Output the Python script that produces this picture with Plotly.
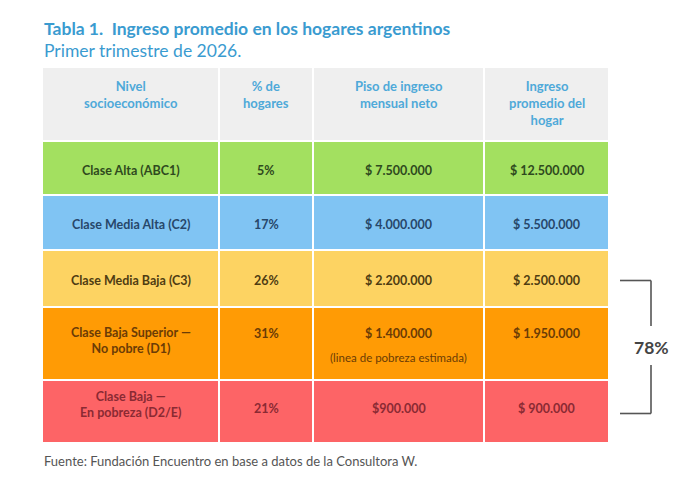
import plotly.graph_objects as go

# --- datos ---
encabezados = ["Nivel<br>socioeconómico", "% de<br>hogares",
               "Piso de ingreso<br>mensual neto", "Ingreso<br>promedio del<br>hogar"]
niveles = ["Clase Alta (ABC1)", "Clase Media Alta (C2)", "Clase Media Baja (C3)",
           "Clase Baja Superior —<br>No pobre (D1)", "Clase Baja —<br>En pobreza (D2/E)"]
pct_hogares = [5, 17, 26, 31, 21]
piso_ingreso = ["$ 7.500.000", "$ 4.000.000", "$ 2.200.000", "$ 1.400.000", "$900.000"]
ingreso_prom = ["$ 12.500.000", "$ 5.500.000", "$ 2.500.000", "$ 1.950.000", "$ 900.000"]
notas_piso = ["", "", "", "(linea de pobreza estimada)", ""]
grupo_bracket = [2, 3, 4]  # filas sumadas en el corchete

# --- estilo ---
W, H = 679, 485
OFF = 8  # margen del body de la pagina
FONT = "Lato"
col_w = [177, 94, 171, 125]
row_h = [74, 54, 55, 57, 73, 63]
fill = ["#efefef", "#a3e060", "#80c4f3", "#fdd362", "#ff9b05", "#fd6466"]
txt_col = ["#4ea9d9", "#2f4a1e", "#27476a", "#4f3c12", "#6b3c06", "#8a2a33"]
text_dy = [0, 2, 2, 2, -10, -3]
label_dy = [0, 0, 0, 0, 7, -4]
left, top = 42 - OFF, 67 - OFF
extra = 70  # espacio a la derecha para el corchete

x_edges = [0]
for w in col_w:
    x_edges.append(x_edges[-1] + w)
y_edges = [0]
for h in row_h:
    y_edges.append(y_edges[-1] + h)
tot_w, tot_h = x_edges[-1], y_edges[-1]

z = [[i] * len(col_w) for i in range(len(row_h))]
n = len(fill) - 1
cscale = [[i / n, c] for i, c in enumerate(fill)]

fig = go.Figure(go.Heatmap(
    x=x_edges, y=y_edges, z=z, colorscale=cscale, zmin=0, zmax=n,
    showscale=False, xgap=2, ygap=2, hoverinfo="skip"))

xc = [(x_edges[i] + x_edges[i + 1]) / 2 for i in range(len(col_w))]
yc = [(y_edges[i] + y_edges[i + 1]) / 2 for i in range(len(row_h))]

ann = []
# encabezados
for j, t in enumerate(encabezados):
    ann.append(dict(x=xc[j], y=y_edges[0] + 9, text="<b>%s</b>" % t, yanchor="top",
                    font=dict(family=FONT, size=13, color=txt_col[0])))
# filas
for i in range(len(niveles)):
    r = i + 1
    yv = yc[r] + text_dy[r]
    ann.append(dict(x=xc[0], y=yv + label_dy[r], text="<b>%s</b>" % niveles[i],
                    font=dict(family=FONT, size=12.5, color=txt_col[r])))
    vals = ["%d%%" % pct_hogares[i], piso_ingreso[i], ingreso_prom[i]]
    for j, v in enumerate(vals):
        ann.append(dict(x=xc[j + 1], y=yv, text="<b>%s</b>" % v,
                        font=dict(family=FONT, size=12.5, color=txt_col[r])))
    if notas_piso[i]:
        ann.append(dict(x=xc[2], y=yv + 24, text=notas_piso[i],
                        font=dict(family=FONT, size=11.5, color=txt_col[r])))

# corchete 78%
y0 = yc[grupo_bracket[0] + 1] + 2
y1 = yc[grupo_bracket[-1] + 1] + 2
ym = (y0 + y1) / 2
bx0, bx1 = tot_w + 11, tot_w + 42
line = dict(color="#555555", width=1.6)
shapes = [
    dict(type="line", x0=bx0, x1=bx1, y0=y0, y1=y0, line=line),
    dict(type="line", x0=bx1, x1=bx1, y0=y0, y1=ym - 21, line=line),
    dict(type="line", x0=bx1, x1=bx1, y0=ym + 18, y1=y1, line=line),
    dict(type="line", x0=bx0, x1=bx1, y0=y1, y1=y1, line=line),
]
total = sum(pct_hogares[k] for k in grupo_bracket)
ann.append(dict(x=bx1, y=ym, text="<b>%d%%</b>" % total,
                font=dict(family=FONT, size=17.5, color="#444444")))

for a in ann:
    a.update(xref="x", yref="y", showarrow=False)

# titulos y fuente
ann += [
    dict(x=left / W, y=1 - (16 - OFF) / H, xref="paper", yref="paper", xanchor="left", showarrow=False,
         text="<b>Tabla 1.  Ingreso promedio en los hogares argentinos</b>",
         font=dict(family=FONT, size=17.5, color="#3a9bd0")),
    dict(x=left / W, y=1 - (38 - OFF) / H, xref="paper", yref="paper", xanchor="left", showarrow=False,
         text="Primer trimestre de 2026.",
         font=dict(family=FONT, size=17.5, color="#3a9bd0")),
    dict(x=left / W, y=1 - (471 - OFF) / H, xref="paper", yref="paper", xanchor="left", showarrow=False,
         text="Fuente: Fundación Encuentro en base a datos de la Consultora W.",
         font=dict(family=FONT, size=13, color="#555555")),
]

x_dom_end = (left + tot_w + extra) / W
fig.update_layout(
    width=W, height=H, margin=dict(l=0, r=0, t=0, b=0),
    paper_bgcolor="white", plot_bgcolor="white",
    xaxis=dict(domain=[left / W, x_dom_end], range=[0, tot_w + extra], visible=False, fixedrange=True),
    yaxis=dict(domain=[1 - (top + tot_h) / H, 1 - top / H], range=[tot_h, 0], visible=False, fixedrange=True),
    annotations=ann, shapes=shapes, showlegend=False,
)

fig.write_html("out.html")
